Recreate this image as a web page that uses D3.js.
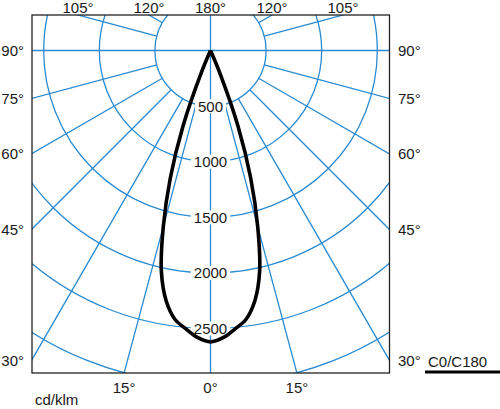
<!DOCTYPE html>
<html>
<head>
<meta charset="utf-8">
<script src="https://cdn.jsdelivr.net/npm/d3@7"></script>
<style>
  body { margin: 0; background: #fff; }
  svg text { font-family: "Liberation Sans", Arial, sans-serif; font-size: 15px; fill: #1a1a1a; }
</style>
</head>
<body>
<div id="chart"></div>
<script>
// gamma (deg from nadir) and intensity (cd/klm), C0/C180 plane, symmetric
const gammaDeg  = [0, 2.5, 5, 7.5, 10, 12.5, 15, 17.5, 20, 22.5, 25];
const intensity = [2620, 2585, 2515, 2440, 2290, 2040, 1640, 1200, 720, 220, 0];

const ringValues   = [500, 1000, 1500, 2000, 2500, 3000];
const ringLabels   = [500, 1000, 1500, 2000, 2500];
const spokeAngles  = [15, 30, 45, 60, 75, 105, 120, 135, 150, 165];
const sideLabels   = [30, 45, 60, 75, 90];
const topLabels    = [105, 120];
const bottomLabels = [15];
const unitLabel    = "cd/klm";
const legendLabel  = "C0/C180";

const W = 500, H = 409;
const frame = {left: 32, right: 389.5, top: 15, bottom: 373};
const cx = 210.5, cy = 50.5;
const gridColor = "#2a8ad2";

const rScale = d3.scaleLinear().domain([0, 3000]).range([0, 333.6]);
const rad = d => d * Math.PI / 180;

const svg = d3.select("#chart").append("svg")
    .attr("width", W)
    .attr("height", H);

svg.append("defs").append("clipPath")
    .attr("id", "frameClip")
    .append("rect")
    .attr("x", frame.left).attr("y", frame.top)
    .attr("width", frame.right - frame.left)
    .attr("height", frame.bottom - frame.top);

const grid = svg.append("g")
    .attr("clip-path", "url(#frameClip)")
    .attr("fill", "none")
    .attr("stroke", gridColor)
    .attr("stroke-width", 1.3);

// rings
grid.selectAll(".ring")
    .data(ringValues)
    .enter().append("circle")
    .attr("class", "ring")
    .attr("cx", cx).attr("cy", cy)
    .attr("r", d => rScale(d));

// spokes, both sides, from the first ring outwards
const spokes = [];
spokeAngles.forEach(a => { spokes.push(a); spokes.push(-a); });
grid.selectAll(".spoke")
    .data(spokes)
    .enter().append("line")
    .attr("class", "spoke")
    .attr("x1", d => cx + rScale(500) * Math.sin(rad(d)))
    .attr("y1", d => cy + rScale(500) * Math.cos(rad(d)))
    .attr("x2", d => cx + rScale(4000) * Math.sin(rad(d)))
    .attr("y2", d => cy + rScale(4000) * Math.cos(rad(d)));

// 0/180 and 90 axes run through the centre
grid.append("line")
    .attr("x1", cx).attr("x2", cx)
    .attr("y1", frame.top).attr("y2", frame.bottom);
grid.append("line")
    .attr("x1", frame.left).attr("x2", frame.right)
    .attr("y1", cy).attr("y2", cy);

// frame
svg.append("rect")
    .attr("x", frame.left).attr("y", frame.top)
    .attr("width", frame.right - frame.left)
    .attr("height", frame.bottom - frame.top)
    .attr("fill", "none")
    .attr("stroke", "#222")
    .attr("stroke-width", 1.3);

// ring value labels on the vertical axis
const ringLab = svg.append("g").selectAll(".ringLab")
    .data(ringLabels)
    .enter().append("g")
    .attr("class", "ringLab")
    .attr("transform", d => "translate(" + cx + "," + (cy + rScale(d)) + ")");

ringLab.append("rect")
    .attr("x", d => -(String(d).length * 8.34) / 2 - 3)
    .attr("y", -7)
    .attr("width", d => String(d).length * 8.34 + 6)
    .attr("height", 14)
    .attr("fill", "#fff");

// intensity curve
const pts = [];
for (let i = gammaDeg.length - 1; i > 0; i--) pts.push([-gammaDeg[i], intensity[i]]);
for (let i = 0; i < gammaDeg.length; i++) pts.push([gammaDeg[i], intensity[i]]);

const line = d3.lineRadial()
    .angle(d => Math.PI - rad(d[0]))
    .radius(d => rScale(d[1]))
    .curve(d3.curveCatmullRom.alpha(0.5));

svg.append("path")
    .datum(pts)
    .attr("transform", "translate(" + cx + "," + cy + ")")
    .attr("d", line)
    .attr("fill", "none")
    .attr("stroke", "#000")
    .attr("stroke-width", 3.6)
    .attr("stroke-linejoin", "miter");

ringLab.append("text")
    .attr("text-anchor", "middle")
    .attr("dy", "0.36em")
    .text(d => d);

// angle labels on the sides
const sideX = frame.right - cx;
const sideY = a => a === 90 ? cy : cy + sideX / Math.tan(rad(a));

svg.append("g").selectAll(".labR")
    .data(sideLabels)
    .enter().append("text")
    .attr("x", frame.right + 8.5)
    .attr("y", d => sideY(d))
    .attr("dy", "0.36em")
    .text(d => d + "°");

svg.append("g").selectAll(".labL")
    .data(sideLabels)
    .enter().append("text")
    .attr("x", frame.left - 8)
    .attr("y", d => sideY(d))
    .attr("dy", "0.36em")
    .attr("text-anchor", "end")
    .text(d => d + "°");

// top labels
const topX = a => (cy - frame.top) / Math.tan(rad(a - 90));
const tops = [];
topLabels.forEach(a => { tops.push({a: a, x: cx - topX(a)}); tops.push({a: a, x: cx + topX(a)}); });
tops.push({a: 180, x: cx});
svg.append("g").selectAll(".labT")
    .data(tops)
    .enter().append("text")
    .attr("x", d => d.x)
    .attr("y", 12.8)
    .attr("text-anchor", "middle")
    .text(d => d.a + "°");

// bottom labels
const botX = a => (frame.bottom - cy) * Math.tan(rad(a));
const bots = [];
bottomLabels.forEach(a => { bots.push({a: a, x: cx - botX(a)}); bots.push({a: a, x: cx + botX(a)}); });
bots.push({a: 0, x: cx});
svg.append("g").selectAll(".labB")
    .data(bots)
    .enter().append("text")
    .attr("x", d => d.x)
    .attr("y", 393)
    .attr("text-anchor", "middle")
    .text(d => d.a + "°");

svg.append("text")
    .attr("x", 35)
    .attr("y", 405)
    .text(unitLabel);

// legend
svg.append("text")
    .attr("x", 428)
    .attr("y", 367)
    .text(legendLabel);
svg.append("line")
    .attr("x1", 425).attr("x2", 500)
    .attr("y1", 372).attr("y2", 372)
    .attr("stroke", "#000")
    .attr("stroke-width", 3);
</script>
</body>
</html>
